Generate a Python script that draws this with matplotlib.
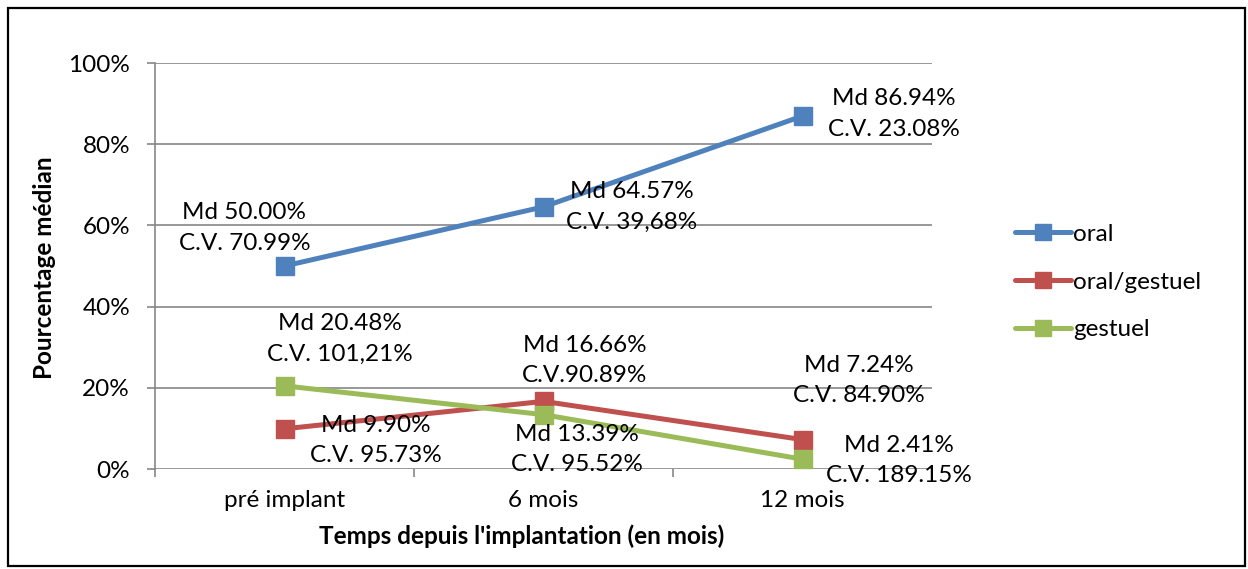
import matplotlib.pyplot as plt
from matplotlib.patches import Rectangle
from matplotlib.ticker import PercentFormatter
import numpy as np

plt.rcParams['font.family'] = ['Lato', 'DejaVu Sans']

categories = ['pré implant', '6 mois', '12 mois']
series_names = ['oral', 'oral/gestuel', 'gestuel']
oral = [50.00, 64.57, 86.94]
oral_gestuel = [9.90, 16.66, 7.24]
gestuel = [20.48, 13.39, 2.41]
oral_labels = ['Md 50.00%\nC.V. 70.99%', 'Md 64.57%\nC.V. 39,68%', 'Md 86.94%\nC.V. 23.08%']
oral_gestuel_labels = ['Md 9.90%\nC.V. 95.73%', 'Md 16.66%\nC.V.90.89%', 'Md 7.24%\nC.V. 84.90%']
gestuel_labels = ['Md 20.48%\nC.V. 101,21%', 'Md 13.39%\nC.V. 95.52%', 'Md 2.41%\nC.V. 189.15%']

colors = ['#4F81BD', '#C0504D', '#9BBB59']
grid_color = '#868686'
fs = 17.5

# label offsets in pixels (manual placement like the Excel data labels)
offsets = [
    [(-40, 38), (88, 0), (91, 2)],
    [(91, -12), (41, 41), (56, 59)],
    [(55, 47), (33, -35), (96, -1)],
]

fig = plt.figure(figsize=(12.48, 5.69), dpi=100)
fig.patches.append(Rectangle((8 / 1248, 3 / 569), 1237 / 1248, 558 / 569,
                             transform=fig.transFigure, fill=False,
                             edgecolor='black', linewidth=1.6))

ax = fig.add_axes([155 / 1248, 1 - 469 / 569, 777 / 1248, 406 / 569])
x = np.arange(len(categories)) + 0.5

all_values = [oral, oral_gestuel, gestuel]
all_labels = [oral_labels, oral_gestuel_labels, gestuel_labels]
for values, labels, name, color, offs in zip(all_values, all_labels, series_names, colors, offsets):
    ax.plot(x, values, color=color, linewidth=3.6, marker='s', markersize=13,
            label=name, solid_capstyle='round', zorder=3)
    for xi, v, lab, off in zip(x, values, labels, offs):
        ax.annotate(lab, (xi, v), xytext=off, textcoords='offset pixels',
                    ha='center', va='center', fontsize=fs, linespacing=1.55,
                    zorder=4)

ax.set_xlim(0, 3)
ax.set_ylim(0, 100)
ax.set_yticks(np.arange(0, 101, 20))
ax.yaxis.set_major_formatter(PercentFormatter(decimals=0))
ax.set_xticks(x)
ax.set_xticklabels(categories)
ax.set_xticks([0, 1, 2, 3], minor=True)
ax.tick_params(axis='x', which='major', length=0, pad=15, labelsize=fs)
ax.tick_params(axis='x', which='minor', length=6, color=grid_color, width=1.2)
ax.tick_params(axis='y', length=6, color=grid_color, width=1.2, pad=12,
               labelsize=fs)
ax.grid(axis='y', color=grid_color, linewidth=1.2)
ax.set_axisbelow(True)
for side in ['top', 'right', 'bottom']:
    ax.spines[side].set_visible(False)
ax.spines['left'].set_color(grid_color)
ax.spines['left'].set_linewidth(1.2)

fig.text(45 / 1248, 1 - 268 / 569, 'Pourcentage médian', rotation=90,
         ha='center', va='center', fontsize=fs, fontweight='bold')
fig.text(522 / 1248, 1 - 536 / 569, "Temps depuis l'implantation (en mois)",
         ha='center', va='center', fontsize=fs, fontweight='bold')

leg = fig.legend(loc='center left', bbox_to_anchor=(993 / 1248, 1 - 282 / 569),
                 frameon=False, fontsize=fs, handlelength=2.3,
                 handletextpad=0.1, labelspacing=1.1, markerscale=0.85)

fig.savefig('out.png', dpi=100)
